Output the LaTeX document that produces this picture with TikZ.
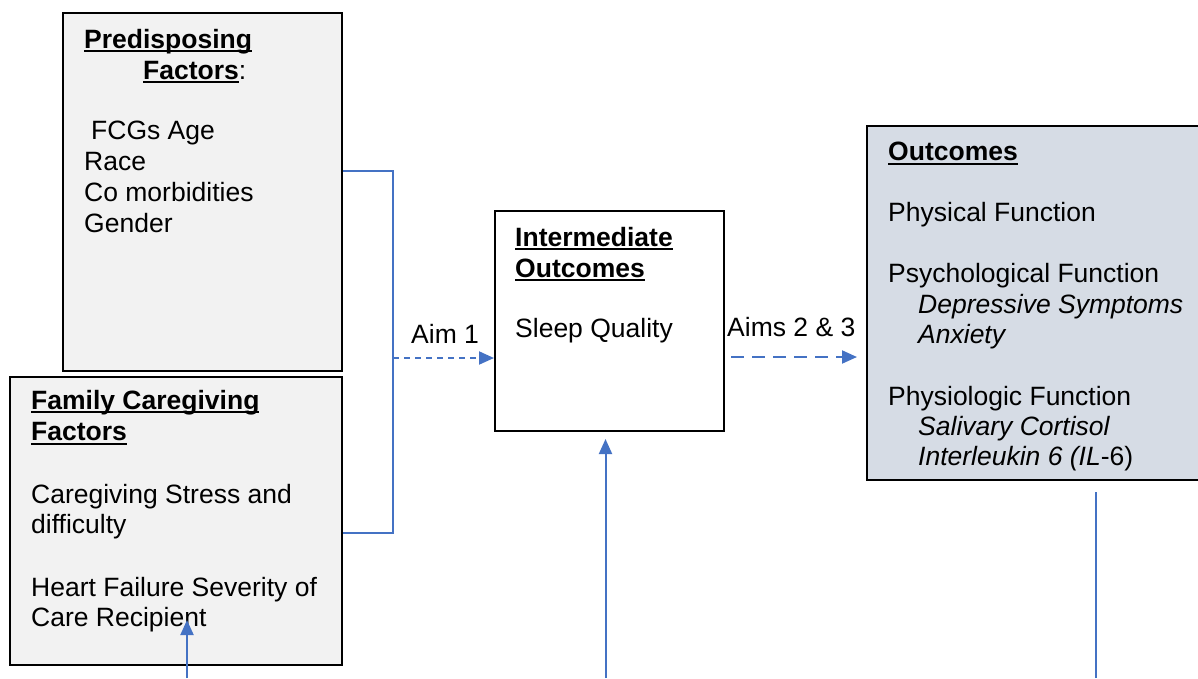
\documentclass[tikz,border=0pt]{standalone}
\usepackage{fontspec}
\setmainfont{Liberation Sans}
\usetikzlibrary{arrows.meta}
\definecolor{cblue}{HTML}{4472C4}
\definecolor{cgrey}{HTML}{F2F2F2}
\definecolor{cout}{HTML}{D6DCE5}
\newcommand\ulbf[1]{\setbox0\hbox{\bfseries #1}\rlap{\rule[-4pt]{\wd0}{1.8pt}}\box0}
\begin{document}
\begin{tikzpicture}[x=1pt,y=-1pt,
  box/.style={draw=black, line width=2pt, anchor=north west, inner sep=0pt},
  txt/.style={anchor=base west, inner sep=0pt, font=\fontsize{26.5}{30}\selectfont},
  link/.style={draw=cblue, line width=2pt},
  tip/.style={-{Triangle[length=15pt,width=13pt]}}]
\useasboundingbox (0,0) rectangle (1198,678);
% boxes
\node[box, fill=cgrey, minimum width=279pt, minimum height=358pt] (pre) at (62,12) {};
\node[box, fill=cgrey, minimum width=332pt, minimum height=288pt] (fam) at (9,376) {};
\node[box, fill=white, minimum width=229pt, minimum height=220pt] (inter) at (494,210) {};
\node[box, fill=cout, minimum width=345pt, minimum height=354pt] (out) at (866,125) {};
% predisposing text
\node[txt] (p1) at (84,48) {\ulbf{Predisposing}};
\node[txt] (p2) at (143,79) {\ulbf{Factors}:};
\node[txt] (p3) at (91,139.5) {FCGs Age};
\node[txt] (p4) at (84,170.5) {Race};
\node[txt] (p5) at (84,201.5) {Co morbidities};
\node[txt] (p6) at (84,232.5) {Gender};
% family text
\node[txt] (f1t) at (31,409) {\ulbf{Family Caregiving}};
\node[txt] (f2t) at (31,440.5) {\ulbf{Factors}};
\node[txt] (f3t) at (31,503) {Caregiving Stress and};
\node[txt] (f4t) at (31,533) {difficulty};
\node[txt] (f5t) at (31,596.5) {Heart Failure Severity of};
\node[txt] (f6t) at (31,626.5) {Care Recipient};
% intermediate text
\node[txt] (i1) at (515,246) {\ulbf{Intermediate}};
\node[txt] (i2) at (515,277) {\ulbf{Outcomes}};
\node[txt] (i3) at (515,337) {Sleep Quality};
% outcomes text
\node[txt] (o1) at (888,160.5) {\ulbf{Outcomes}};
\node[txt] (o2) at (888,221.5) {Physical Function};
\node[txt] (o3) at (888,282.5) {Psychological Function};
\node[txt] (o4) at (918,313.5) {\itshape Depressive Symptoms};
\node[txt] (o5) at (918,343.5) {\itshape Anxiety};
\node[txt] (o6) at (888,405) {Physiologic Function};
\node[txt] (o7) at (918,435) {\itshape Salivary Cortisol};
\node[txt] (o8) at (918,465.5) {{\itshape Interleukin 6 (IL}-6)};
% labels
\node[txt] (aim1) at (411,343) {Aim 1};
\node[txt] (aim23) at (727,336) {Aims 2 \& 3};
% connectors
\coordinate (bt) at (393,170.5);
\coordinate (bb) at (393,532.5);
\draw[link] (pre.east |- bt) -- (bt) -- (bb) -- (fam.east |- bb);
\coordinate (a1s) at (393,358);
\draw[link, dash pattern=on 6pt off 5pt, tip] (a1s) -- (inter.west |- a1s);
\coordinate (a2s) at (731,357);
\draw[link, dash pattern=on 13pt off 8pt, tip, shorten >=9pt] (a2s) -- (out.west |- a2s);
\coordinate (m0) at (605.5,678);
\draw[link, tip, shorten >=7pt] (m0) -- (m0 |- inter.south);
\coordinate (fb) at (187,678);
\coordinate (ft) at (187,620);
\draw[link, tip] (fb) -- (ft);
\coordinate (r0) at (1096,678);
\draw[link, shorten >=11pt] (r0) -- (r0 |- out.south);
\end{tikzpicture}
\end{document}
